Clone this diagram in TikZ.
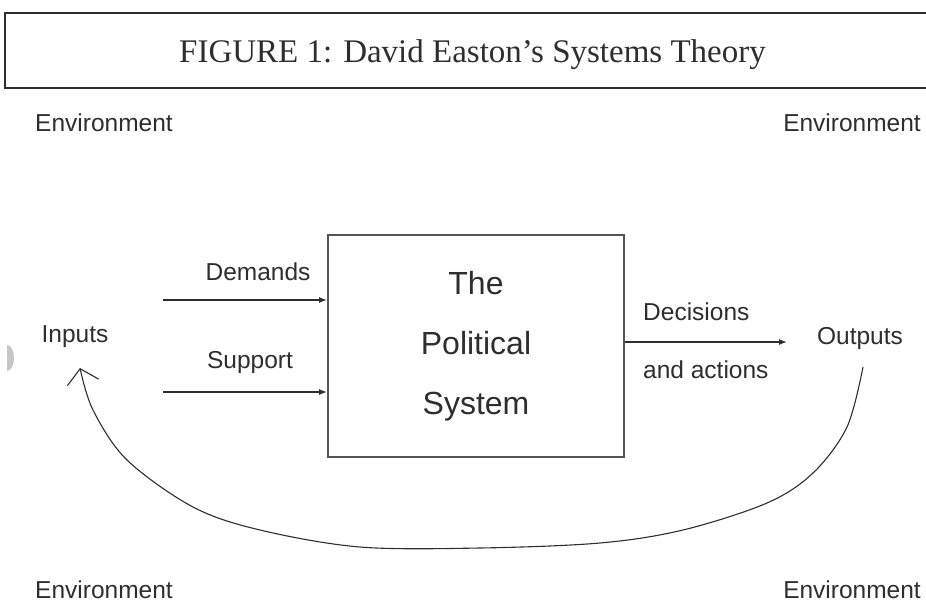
\documentclass[tikz,border=0pt]{standalone}
\usepackage{fontspec}
\setmainfont{Liberation Serif}
\setsansfont{Liberation Sans}
\usetikzlibrary{arrows.meta}

\definecolor{ink}{HTML}{2e2e2e}
\definecolor{frame}{HTML}{555555}

\begin{document}
\begin{tikzpicture}[x=1pt,y=-1pt,
  lbl/.style={font=\sffamily\fontsize{24.5}{28}\selectfont, text=ink, inner sep=0pt},
  envlbl/.style={lbl},
  feed/.style={draw=ink, line width=1.3pt, -{Latex[length=8pt,width=6pt]}},
  loopline/.style={draw=ink, line width=1.1pt, -{Straight Barb[length=14pt,width=32pt]}},
  sysbox/.style={draw=frame, line width=1.8pt, minimum width=296pt, minimum height=222pt,
    align=center, font=\sffamily\fontsize{32}{60}\selectfont, text=ink},
  titlebox/.style={draw=ink, line width=1.6pt, minimum width=935pt, minimum height=75pt,
    font=\fontsize{33}{36}\selectfont, text=ink}
]
\useasboundingbox (0,0) rectangle (926,605);

% heading frame, open past the right edge of the page; the caption sits a little low
\node[titlebox] (title) at (472.5,50.5)
  {\raisebox{-4pt}[\height][\depth]{FIGURE 1: David Easton’s Systems Theory}};

% environment labels in the four corners
\node[envlbl, anchor=west] (envTL) at (35,123) {Environment};
\node[envlbl, anchor=east] (envTR) at (921,123) {Environment};
\node[envlbl, anchor=west] (envBL) at (35,590) {Environment};
\node[envlbl, anchor=east] (envBR) at (921,590) {Environment};

% the political system
\node[sysbox] (sys) at (476,346) {The\\Political\\System};

% inputs side
\node[lbl] (inputs) at (75,337) {Inputs};
\node[lbl] (demands) at (258,272) {Demands};
\node[lbl] (support) at (250,362) {Support};
\coordinate (demStart) at (163,300);
\coordinate (supStart) at (163,392);
\draw[feed] (demStart) -- (sys.west |- demStart);
\draw[feed] (supStart) -- (sys.west |- supStart);

% outputs side
\node[lbl] (outputs) at (860,338) {Outputs};
\node[lbl, anchor=west] (decisions) at (643,312) {Decisions};
\node[lbl, anchor=west] (actions) at (643,370) {and actions};
\coordinate (outEnd) at (787,342);
\draw[feed] (sys.east |- outEnd) -- (outEnd);

% feedback loop from outputs back to inputs
\coordinate (loopStart) at (863,367);
\coordinate (loopEnd) at (80,368);
\draw[loopline] plot[smooth, tension=0.55] coordinates {
  (loopStart) (847,427) (813,473) (767,503) (683,530) (600,543)
  (480,548) (360,547) (260,530) (193,507) (127,460) (93,410) (loopEnd)};

% faint mark at the left edge
\fill[gray!45] (7,345) arc[start angle=90, end angle=-90, x radius=7pt, y radius=13pt] -- cycle;
\end{tikzpicture}
\end{document}
